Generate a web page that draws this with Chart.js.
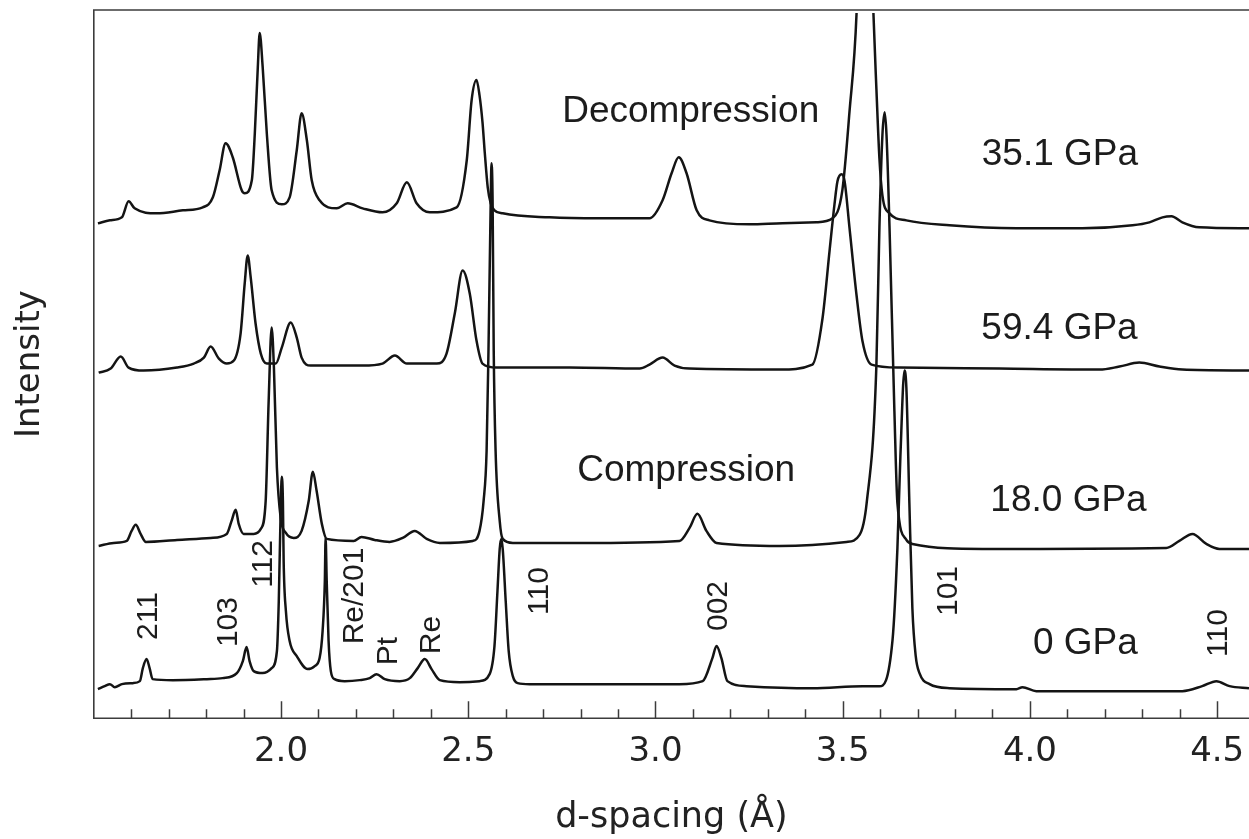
<!DOCTYPE html>
<html>
<head>
<meta charset="utf-8">
<script src="https://cdn.jsdelivr.net/npm/chart.js@4/dist/chart.umd.min.js"></script>
<style>
  html, body { margin: 0; padding: 0; background: #ffffff; }
  #wrap { width: 1249px; height: 839px; }
</style>
</head>
<body>
<div id="wrap"><canvas id="xrd" width="1249" height="839"></canvas></div>
<script>
// Stacked powder-diffraction patterns: [d-spacing (Å), stacked intensity (a.u.)]
const pattern0GPa = [
  [1.511,29],[1.529,32],[1.543,34],[1.556,31],[1.575,34],[1.604,35],[1.623,37],[1.631,50],[1.641,59],[1.649,50],
  [1.657,39],[1.711,38],[1.802,39],[1.844,40],[1.882,45],[1.898,57],[1.908,71],[1.916,57],[1.927,47],[1.951,45],
  [1.975,50],[1.989,67],[1.994,117],[1.999,207],[2.002,241],[2.005,217],[2.007,157],[2.013,107],[2.023,77],[2.042,62],
  [2.071,49],[2.090,52],[2.103,60],[2.111,87],[2.117,137],[2.119,180],[2.122,137],[2.127,77],[2.133,47],[2.143,39],
  [2.170,37],[2.210,38],[2.237,40],[2.255,44],[2.277,39],[2.317,37],[2.344,40],[2.365,50],[2.384,59],[2.402,49],
  [2.424,38],[2.477,36],[2.530,37],[2.557,44],[2.570,72],[2.578,127],[2.584,169],[2.588,179],[2.592,169],[2.600,117],
  [2.608,67],[2.619,42],[2.632,35],[2.664,34],[2.851,34],[3.064,34],[3.126,37],[3.152,60],[3.163,72],[3.176,60],
  [3.192,37],[3.243,32],[3.419,30],[3.553,32],[3.598,32],[3.633,78],[3.646,169],[3.654,261],[3.665,347],[3.670,330],
  [3.678,215],[3.686,110],[3.695,62],[3.705,45],[3.732,34],[3.785,30],[3.964,29],[3.980,31],[4.017,27],[4.407,27],
  [4.460,32],[4.498,37],[4.533,32],[4.585,30]
];
const pattern18GPa = [
  [1.513,172],[1.553,175],[1.588,177],[1.601,187],[1.612,193],[1.625,184],[1.639,176],[1.722,178],[1.812,180],[1.855,184],
  [1.868,197],[1.879,208],[1.887,194],[1.900,184],[1.927,184],[1.946,189],[1.959,217],[1.967,317],[1.975,390],[1.981,350],
  [1.989,250],[1.999,200],[2.013,185],[2.034,180],[2.055,187],[2.074,217],[2.085,246],[2.095,227],[2.109,194],[2.122,179],
  [2.194,177],[2.215,181],[2.250,178],[2.290,176],[2.325,180],[2.357,187],[2.389,179],[2.424,175],[2.512,177],[2.530,187],
  [2.541,217],[2.549,267],[2.554,367],[2.560,517],[2.562,554],[2.565,517],[2.568,367],[2.573,267],[2.584,197],[2.592,179],
  [2.619,175],[2.797,175],[3.064,177],[3.091,190],[3.112,204],[3.136,187],[3.163,175],[3.331,172],[3.510,176],[3.545,183],
  [3.564,215],[3.590,353],[3.598,490],[3.606,582],[3.612,605],[3.617,582],[3.625,490],[3.638,307],[3.646,215],[3.670,178],
  [3.686,174],[3.873,169],[4.364,170],[4.399,177],[4.434,184],[4.471,174],[4.506,169],[4.585,169]
];
const pattern59GPa = [
  [1.513,345],[1.545,349],[1.572,361],[1.593,350],[1.633,347],[1.722,350],[1.767,354],[1.794,360],[1.812,371],[1.834,359],
  [1.855,354],[1.874,357],[1.892,384],[1.903,434],[1.911,462],[1.919,440],[1.932,394],[1.946,364],[1.962,354],[1.986,354],
  [2.002,370],[2.026,395],[2.042,380],[2.055,360],[2.079,352],[2.130,352],[2.218,352],[2.271,354],[2.304,362],[2.336,354],
  [2.416,354],[2.442,364],[2.464,404],[2.485,447],[2.504,424],[2.522,377],[2.538,354],[2.576,350],[2.771,350],[2.958,349],
  [2.984,353],[3.019,360],[3.051,352],[3.091,349],[3.331,348],[3.419,353],[3.446,399],[3.465,467],[3.478,513],[3.486,536],
  [3.497,543],[3.505,536],[3.518,490],[3.537,422],[3.553,376],[3.577,353],[3.652,350],[3.919,349],[4.186,348],[4.239,351],
  [4.292,355],[4.346,351],[4.407,348],[4.585,347]
];
const pattern35GPa = [
  [1.511,494],[1.543,497],[1.575,500],[1.593,516],[1.609,509],[1.668,504],[1.738,507],[1.791,510],[1.818,520],[1.836,547],
  [1.852,574],[1.871,560],[1.895,527],[1.903,524],[1.922,537],[1.930,584],[1.938,650],[1.943,684],[1.951,650],[1.962,584],
  [1.975,527],[2.002,513],[2.023,520],[2.042,567],[2.055,604],[2.069,577],[2.082,537],[2.103,517],[2.149,509],[2.178,514],
  [2.218,509],[2.271,505],[2.309,514],[2.336,535],[2.362,514],[2.397,505],[2.469,510],[2.496,557],[2.509,617],[2.522,637],
  [2.530,622],[2.538,595],[2.544,565],[2.552,530],[2.560,514],[2.570,507],[2.592,504],[2.717,500],[2.851,499],[2.984,499],
  [3.019,517],[3.043,544],[3.062,560],[3.083,544],[3.110,507],[3.144,497],[3.251,493],[3.339,494],[3.430,495],[3.473,499],
  [3.499,527],[3.518,605],[3.537,704],[3.560,1000],[3.582,704],[3.590,628],[3.598,559],[3.606,522],[3.625,504],[3.670,497],
  [3.785,492],[3.964,489],[4.140,489],[4.274,492],[4.319,495],[4.354,500],[4.378,501],[4.407,495],[4.452,490],[4.585,489]
];
const patterns = [pattern0GPa, pattern18GPa, pattern59GPa, pattern35GPa];

// Axis ticks (d-spacing, Å)
const majorTicks = [2.0, 2.5, 3.0, 3.5, 4.0, 4.5];
const minorTicks = [1.6, 1.7, 1.8, 1.9, 2.1, 2.2, 2.3, 2.4, 2.6, 2.7, 2.8, 2.9,
                    3.1, 3.2, 3.3, 3.4, 3.6, 3.7, 3.8, 3.9, 4.1, 4.2, 4.3, 4.4];

// Text annotations, anchored in data units [d-spacing, intensity]
const pressureLabels = ['35.1 GPa', '59.4 GPa', '18.0 GPa', '0 GPa'];
const pressureAnchors = [[4.080, 552], [4.079, 379], [4.103, 207], [4.148, 64]];
const pathLabels = ['Decompression', 'Compression'];
const pathAnchors = [[3.094, 595], [3.082, 237]];
const reflectionLabels = ['211', '103', '112', 'Re/201', 'Pt', 'Re', '110', '002', '101', '110'];
const reflectionAnchors = [[1.668, 102], [1.882, 96], [1.975, 154], [2.218, 122], [2.309, 67],
                           [2.424, 83], [2.712, 127], [3.190, 112], [3.806, 127], [4.527, 85]];

const INK = '#1c1c1c';
const ANNOT_FONT = '"Liberation Sans", Arial, Helvetica, sans-serif';
const AXIS_FONT = '"DejaVu Sans", Verdana, sans-serif';

// Plot frame (top, left, bottom) plus inward-pointing tick marks
const framePlugin = {
  id: 'frameAndTicks',
  afterDatasetsDraw(chart) {
    const { ctx, chartArea: a, scales: { x } } = chart;
    ctx.save();
    ctx.strokeStyle = '#3c3c3c';
    ctx.lineWidth = 1.6;
    ctx.beginPath();
    ctx.moveTo(a.right + 2, a.top);
    ctx.lineTo(a.left, a.top);
    ctx.lineTo(a.left, a.bottom);
    ctx.lineTo(a.right + 2, a.bottom);
    ctx.stroke();
    ctx.lineWidth = 1.5;
    ctx.beginPath();
    majorTicks.forEach(v => {
      const px = Math.round(x.getPixelForValue(v)) + 0.5;
      ctx.moveTo(px, a.bottom);
      ctx.lineTo(px, a.bottom - 17);
    });
    minorTicks.forEach(v => {
      const px = Math.round(x.getPixelForValue(v)) + 0.5;
      ctx.moveTo(px, a.bottom);
      ctx.lineTo(px, a.bottom - 9);
    });
    ctx.stroke();
    ctx.restore();
  }
};

// Pressure, path and reflection labels
const labelPlugin = {
  id: 'patternLabels',
  afterDatasetsDraw(chart) {
    const { ctx, scales: { x, y } } = chart;
    ctx.save();
    ctx.fillStyle = INK;
    ctx.textBaseline = 'alphabetic';
    ctx.textAlign = 'center';
    ctx.font = '37px ' + ANNOT_FONT;
    pressureLabels.forEach((t, i) => {
      const [d, v] = pressureAnchors[i];
      ctx.fillText(t, x.getPixelForValue(d), y.getPixelForValue(v));
    });
    pathLabels.forEach((t, i) => {
      const [d, v] = pathAnchors[i];
      ctx.fillText(t, x.getPixelForValue(d), y.getPixelForValue(v));
    });
    ctx.font = '30px ' + ANNOT_FONT;
    reflectionLabels.forEach((t, i) => {
      const [d, v] = reflectionAnchors[i];
      ctx.save();
      ctx.translate(x.getPixelForValue(d), y.getPixelForValue(v));
      ctx.rotate(-Math.PI / 2);
      ctx.fillText(t, 0, 0);
      ctx.restore();
    });
    ctx.restore();
  }
};

new Chart(document.getElementById('xrd'), {
  type: 'line',
  data: {
    datasets: patterns.map(p => ({
      data: p.map(([d, v]) => ({ x: d, y: v })),
      borderColor: '#141414',
      borderWidth: 2.5,
      pointRadius: 0,
      fill: false,
      cubicInterpolationMode: 'monotone',
      clip: { left: 0, top: -3, right: 0, bottom: 0 }
    }))
  },
  options: {
    responsive: false,
    animation: false,
    devicePixelRatio: 1,
    layout: { padding: { left: 10, top: 10, right: 0, bottom: 0 } },
    plugins: { legend: { display: false }, tooltip: { enabled: false } },
    scales: {
      x: {
        type: 'linear',
        min: 1.5,
        max: 4.585,
        afterBuildTicks: scale => { scale.ticks = majorTicks.map(v => ({ value: v })); },
        afterFit: scale => { scale.paddingLeft = 0; scale.paddingRight = 0; },
        ticks: {
          autoSkip: false,
          maxRotation: 0,
          padding: 14,
          color: '#222',
          font: { family: AXIS_FONT, size: 34 },
          callback: v => Number(v).toFixed(1)
        },
        grid: { display: false, drawTicks: false },
        border: { display: false },
        title: {
          display: true,
          text: 'd-spacing (Å)',
          color: '#222',
          font: { family: AXIS_FONT, size: 35 },
          padding: { top: 10, bottom: 0 }
        }
      },
      y: {
        min: 0,
        max: 707,
        ticks: { display: false },
        grid: { display: false, drawTicks: false },
        border: { display: false },
        title: {
          display: true,
          text: 'Intensity',
          color: '#222',
          font: { family: AXIS_FONT, size: 34 },
          padding: { top: 0, bottom: 43 }
        }
      }
    }
  },
  plugins: [framePlugin, labelPlugin]
});
</script>
</body>
</html>
